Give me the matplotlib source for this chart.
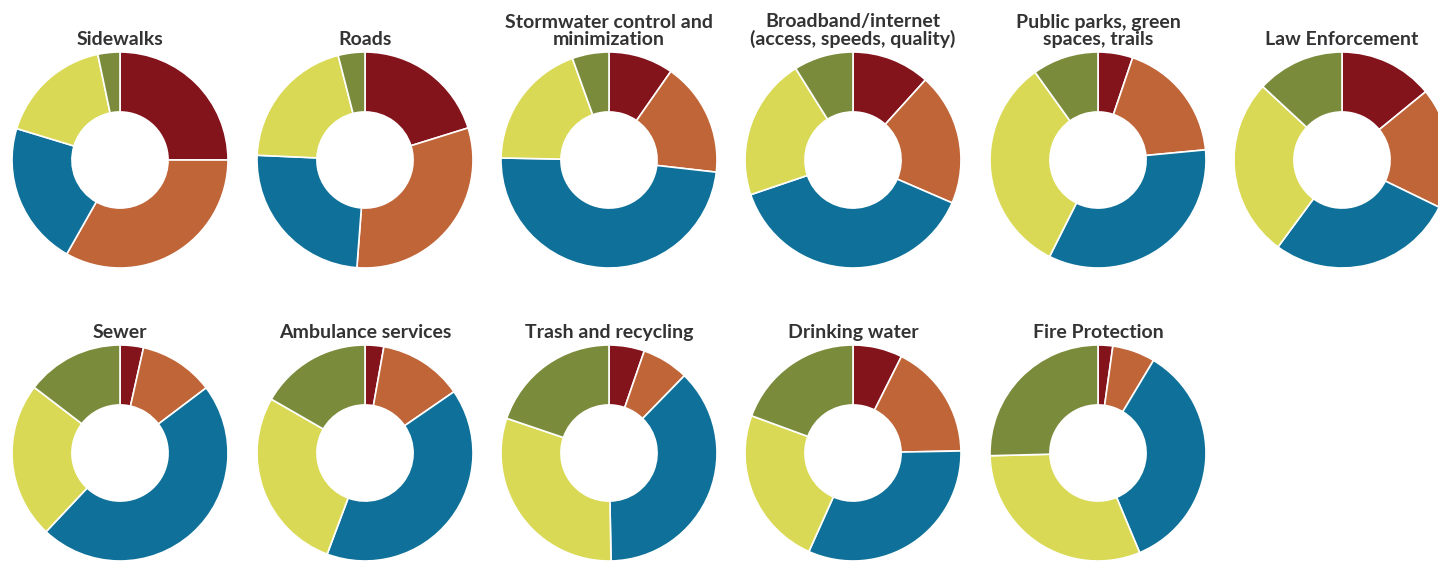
import matplotlib
matplotlib.use("Agg")
import matplotlib.pyplot as plt

# Data (percent shares, clockwise from 12 o'clock)
categories = ["Sidewalks", "Roads", "Stormwater control and\nminimization",
              "Broadband/internet\n(access, speeds, quality)",
              "Public parks, green\nspaces, trails", "Law Enforcement",
              "Sewer", "Ambulance services", "Trash and recycling",
              "Drinking water", "Fire Protection"]
series_1 = [25.0, 20.2, 9.7, 11.7, 5.2, 14.1, 3.5, 2.8, 5.3, 7.4, 2.2]     # dark red
series_2 = [33.2, 31.0, 17.1, 19.8, 18.3, 18.1, 11.2, 12.6, 7.0, 17.3, 6.4]  # orange
series_3 = [21.5, 24.5, 48.5, 38.3, 33.9, 27.9, 47.3, 40.3, 37.4, 32.0, 35.1]  # blue
series_4 = [17.0, 20.3, 19.2, 21.3, 32.7, 26.8, 23.4, 27.6, 30.5, 23.9, 30.9]  # yellow
series_5 = [3.3, 4.0, 5.5, 8.9, 9.9, 13.1, 14.6, 16.7, 19.8, 19.4, 25.4]   # olive

colors = ["#84141c", "#bf6538", "#0f7199", "#d9d955", "#7a8c3b"]

W, H = 1438, 564
fig = plt.figure(figsize=(W / 100, H / 100), dpi=100)
fig.patch.set_facecolor("white")

col_x = [120, 365, 609, 853, 1098, 1342]
row_y = [160, 453]
R = 108
title_y = [45, 338]

for i, name in enumerate(categories):
    r, c = divmod(i, 6)
    cx, cy = col_x[c], row_y[r]
    ax = fig.add_axes([(cx - R - 2) / W, 1 - (cy + R + 2) / H, (2 * R + 4) / W, (2 * R + 4) / H])
    vals = [series_1[i], series_2[i], series_3[i], series_4[i], series_5[i]]
    ax.pie(vals, colors=colors, startangle=90, counterclock=False, radius=1.0,
           wedgeprops=dict(width=0.555, edgecolor="white", linewidth=1.2))
    lim = (R + 2) / R
    ax.set_xlim(-lim, lim)
    ax.set_ylim(-lim, lim)
    ax.set_aspect("equal")
    ax.axis("off")
    fig.text(cx / W, 1 - title_y[r] / H, name, ha="center", va="baseline",
             fontsize=14, fontweight="bold", family=["Lato", "DejaVu Sans"],
             color="#333333", linespacing=1.0)

fig.savefig("out.png", dpi=100, facecolor="white")
